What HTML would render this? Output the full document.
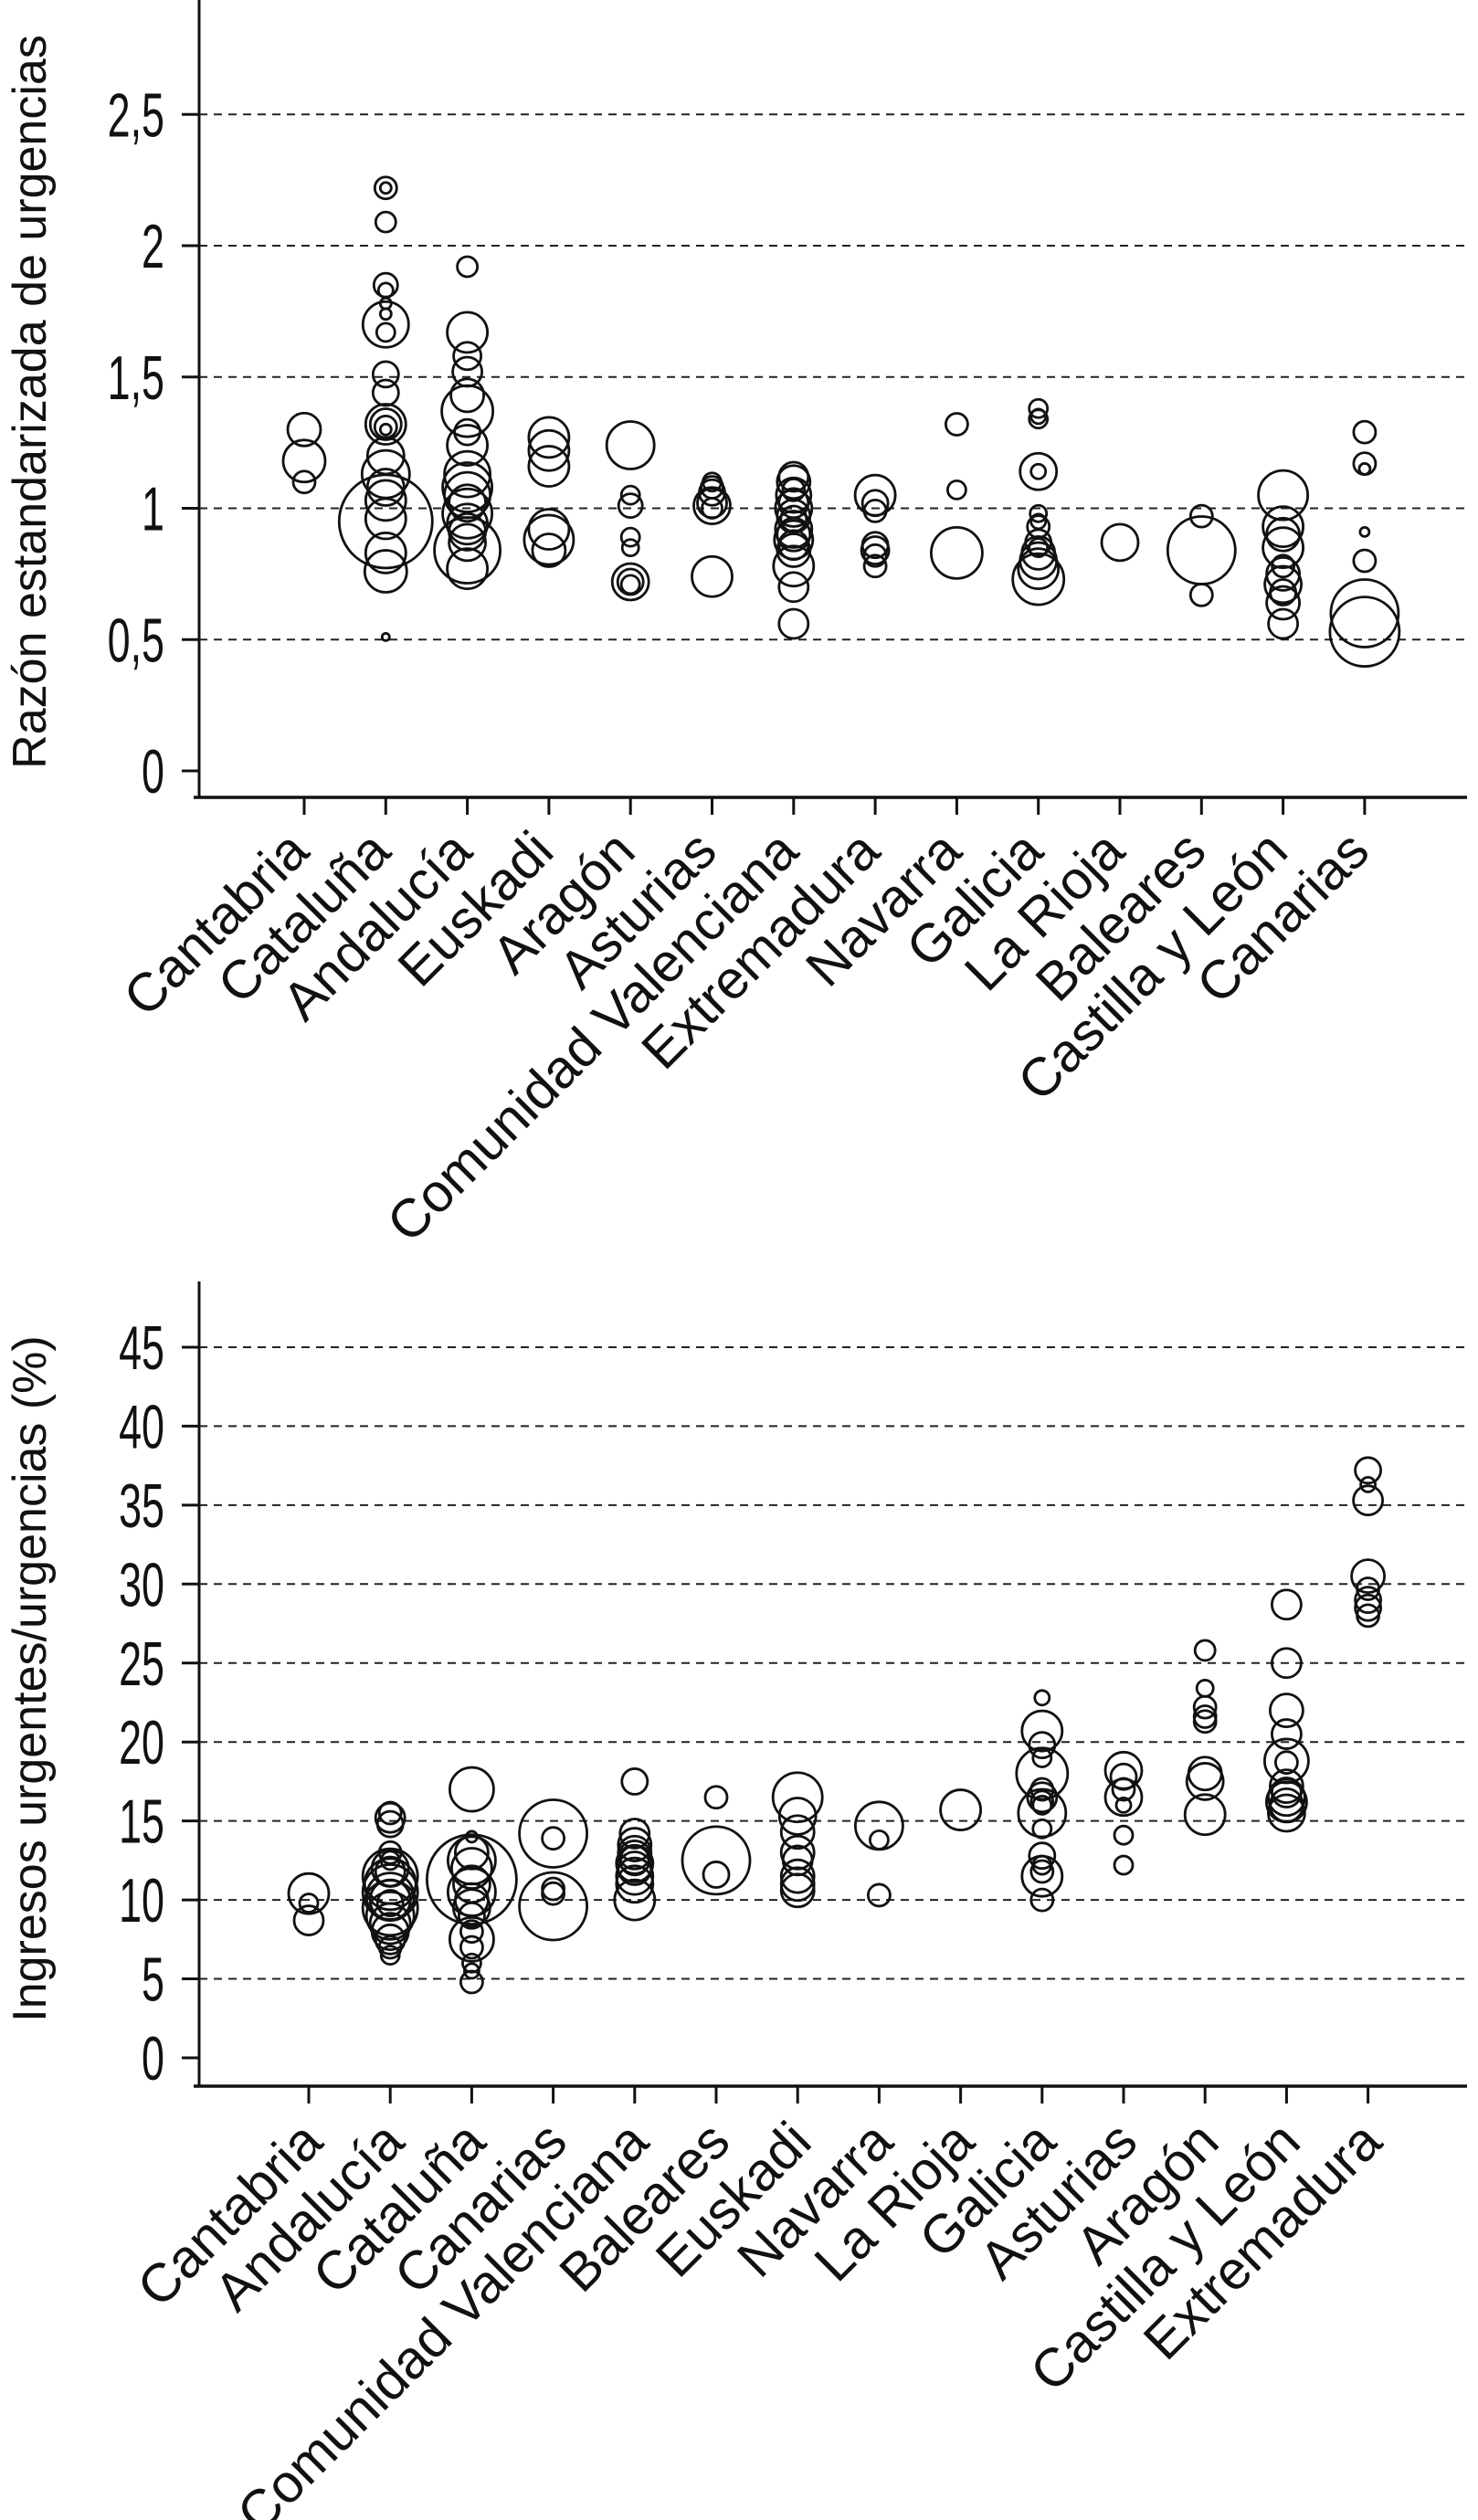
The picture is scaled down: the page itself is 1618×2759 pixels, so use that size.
<!DOCTYPE html>
<html><head><meta charset="utf-8"><style>
html,body{margin:0;padding:0;background:#fff;}
svg{display:block;}
text{font-family:"Liberation Sans",Arial,sans-serif;fill:#111;}
</style></head>
<body>
<svg id="fig" width="1618" height="2759" viewBox="0 0 1618 2759" xmlns="http://www.w3.org/2000/svg">
<g id="top"></g>
<g id="bot"></g>
</svg>
<script>
// ---- Top chart data ----
const topCategories = ["Cantabria","Cataluña","Andalucía","Euskadi","Aragón","Asturias","Comunidad Valenciana","Extremadura","Navarra","Galicia","La Rioja","Baleares","Castilla y León","Canarias"];
const topTicks = [0,0.5,1,1.5,2,2.5];
const topTickLabels = ["0","0,5","1","1,5","2","2,5"];
// values per category: [value, bubble radius]
const topValues = [
 [[1.30,18],[1.18,23],[1.10,12]],
 [[2.22,12],[2.22,6],[2.09,11],[1.85,13],[1.83,8],[1.78,6],[1.74,6],[1.70,25],[1.67,10],[1.51,14],[1.44,14],[1.32,22],[1.32,17],[1.31,12],[1.30,6],[1.20,20],[1.13,26],[1.08,20],[1.03,22],[0.95,51],[0.96,22],[0.83,22],[0.76,23],[0.51,4]],
 [[1.92,11],[1.67,22],[1.58,15],[1.52,16],[1.43,18],[1.37,28],[1.29,14],[1.24,22],[1.13,25],[1.08,27],[1.05,25],[1.02,20],[0.98,27],[0.94,22],[0.91,20],[0.87,20],[0.84,36],[0.77,22]],
 [[1.27,22],[1.22,22],[1.16,22],[0.92,22],[0.88,27],[0.84,18]],
 [[1.24,26],[1.05,10],[1.01,13],[0.89,10],[0.85,9],[0.72,14],[0.71,10],[0.72,20]],
 [[1.10,10],[1.08,12],[1.06,14],[1.02,16],[1.01,20],[1.00,11],[0.74,22]],
 [[1.12,16],[1.10,18],[1.07,12],[1.05,19],[1.02,16],[1.00,20],[0.97,18],[0.96,14],[0.92,20],[0.90,18],[0.88,21],[0.86,16],[0.84,18],[0.78,22],[0.70,16],[0.56,16]],
 [[1.05,22],[1.02,14],[0.99,12],[0.86,14],[0.84,15],[0.82,12],[0.78,12]],
 [[1.32,12],[1.07,10],[0.83,28]],
 [[1.38,10],[1.35,8],[1.34,10],[1.14,20],[1.14,8],[0.98,9],[0.95,8],[0.93,12],[0.87,14],[0.85,10],[0.83,18],[0.80,20],[0.77,22],[0.73,28]],
 [[0.87,20]],
 [[0.97,12],[0.84,37],[0.67,12]],
 [[1.05,27],[0.93,22],[0.90,18],[0.85,22],[0.78,12],[0.75,18],[0.71,20],[0.68,14],[0.64,18],[0.56,16]],
 [[1.29,12],[1.17,12],[1.15,6],[0.91,5],[0.80,12],[0.60,37],[0.53,38]]
];
// ---- Bottom chart data ----
const botCategories = ["Cantabria","Andalucía","Cataluña","Canarias","Comunidad Valenciana","Baleares","Euskadi","Navarra","La Rioja","Galicia","Asturias","Aragón","Castilla y León","Extremadura"];
const botTicks = [0,5,10,15,20,25,30,35,40,45];
const botTickLabels = ["0","5","10","15","20","25","30","35","40","45"];
const botValues = [
 [[10.4,22],[9.8,10],[8.7,16]],
 [[15.5,12],[15.2,16],[14.8,14],[13.0,12],[12.5,10],[12.0,20],[11.8,16],[11.5,30],[11.0,28],[10.5,30],[10.2,26],[10.0,22],[9.8,14],[9.5,30],[9.0,26],[8.5,22],[8.0,20],[7.5,16],[7.0,12],[6.5,10]],
 [[17.0,24],[14.0,6],[13.0,18],[12.5,26],[12.0,22],[11.3,49],[11.0,20],[10.5,26],[10.0,18],[9.5,20],[9.0,14],[8.0,12],[7.5,24],[7.0,12],[6.0,10],[5.5,8],[4.8,12]],
 [[14.2,37],[13.9,12],[10.7,12],[10.4,12],[9.6,37]],
 [[17.5,14],[14.2,16],[13.5,18],[13.0,18],[12.7,18],[12.5,16],[12.3,20],[12.0,18],[11.5,20],[11.0,20],[10.0,22]],
 [[16.5,12],[12.5,37],[11.6,14]],
 [[16.5,27],[15.3,20],[14.3,18],[13.0,18],[12.5,16],[11.5,18],[11.0,18],[10.6,18]],
 [[14.7,26],[13.8,10],[10.3,12]],
 [[15.7,22]],
 [[22.8,8],[20.7,22],[19.8,14],[19.0,10],[18.0,28],[17.0,12],[16.5,16],[16.2,12],[16.0,10],[15.5,26],[14.5,10],[12.8,14],[12.2,10],[11.8,12],[11.5,22],[10.0,12]],
 [[18.2,20],[17.8,14],[17.0,12],[16.5,20],[16.0,8],[14.1,10],[12.2,10]],
 [[25.8,11],[23.4,9],[22.2,12],[21.6,12],[21.3,12],[18.0,18],[17.5,20],[15.4,22]],
 [[28.7,16],[25.0,16],[22.0,18],[20.5,16],[18.8,24],[18.7,12],[17.2,18],[16.8,16],[16.5,20],[16.2,22],[16.0,18],[15.5,20]],
 [[37.2,14],[36.3,8],[35.3,16],[30.5,18],[29.7,12],[29.0,14],[28.5,14],[28.0,12]]
];

const NS="http://www.w3.org/2000/svg";
function mk(tag,attrs,parent){const e=document.createElementNS(NS,tag);for(const k in attrs)e.setAttribute(k,attrs[k]);parent.appendChild(e);return e;}

function drawChart(g,cfg){
  const {cats,ticks,tickLabels,values,yOf,xOf,axisTop,axisY,title,titleY,labelDY,labelDX,gridTicks,prefix}=cfg;
  gridTicks.forEach(t=>{
    const l=mk('line',{x1:218,x2:1606,y1:yOf(t),y2:yOf(t),stroke:'#222','stroke-width':2,'stroke-dasharray':'9 7'},g);
    
    
  });
  const ya=mk('line',{x1:218,x2:218,y1:axisTop,y2:axisY,stroke:'#111','stroke-width':3},g);
  
  
  const xa=mk('line',{x1:212,x2:1606,y1:axisY,y2:axisY,stroke:'#111','stroke-width':3.5},g);
  
  
  ticks.forEach((t,i)=>{
    const tk=mk('line',{x1:199,x2:218,y1:yOf(t),y2:yOf(t),stroke:'#111','stroke-width':3},g);
    
    
    const tx=mk('text',{x:0,y:0,'font-size':68,'text-anchor':'end',transform:`translate(180,${yOf(t)+24}) scale(0.66,1)`},g);
    tx.textContent=tickLabels[i];
    
    
  });
  cats.forEach((c,i)=>{
    const x=xOf(i);
    const tk=mk('line',{x1:x,x2:x,y1:axisY,y2:axisY+19,stroke:'#111','stroke-width':3},g);
    
    
    const lb=mk('text',{x:0,y:0,'font-size':59,'text-anchor':'end',transform:`translate(${x+labelDX},${axisY+labelDY}) rotate(-45)`},g);
    lb.textContent=c;
    
    
    values[i].forEach(([v,r])=>{
      const ci=mk('circle',{cx:x,cy:yOf(v),r:r,fill:'none',stroke:'#111','stroke-width':2.8},g);
      
      
    });
  });
  const tt=mk('text',{x:0,y:0,'font-size':52,'text-anchor':'middle',transform:`translate(50,${titleY}) rotate(-90)`},g);
  tt.textContent=title;
  
  
}

drawChart(document.getElementById('top'),{
  cats:topCategories,ticks:topTicks,tickLabels:topTickLabels,values:topValues,
  yOf:v=>844-287.5*v,xOf:i=>333+89.3*i,axisTop:0,axisY:873,
  title:"Razón estandarizada de urgencias",titleY:440,labelDY:62,labelDX:8,
  gridTicks:[0.5,1,1.5,2,2.5],prefix:'top-'
});
drawChart(document.getElementById('bot'),{
  cats:botCategories,ticks:botTicks,tickLabels:botTickLabels,values:botValues,
  yOf:v=>2253-17.29*v,xOf:i=>338+89.2*i,axisTop:1403,axisY:2284,
  title:"Ingresos urgentes/urgencias (%)",titleY:1838,labelDY:64,labelDX:18,
  gridTicks:[5,10,15,20,25,30,35,40,45],prefix:'bottom-'
});
</script>
</body></html>
